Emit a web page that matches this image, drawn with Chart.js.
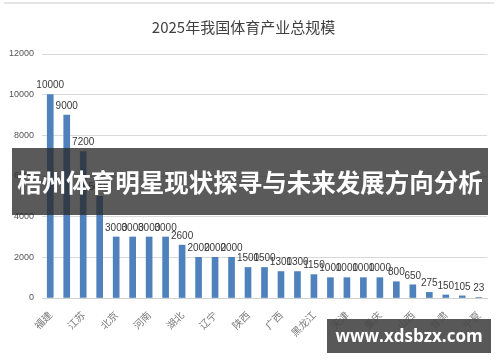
<!DOCTYPE html>
<html>
<head>
<meta charset="utf-8">
<script src="https://cdn.jsdelivr.net/npm/chart.js@4"></script>
<style>
  body { margin: 0; background: #fff; }
  #wrap { position: relative; width: 500px; height: 362px; overflow: hidden; }
  #topline { position: absolute; left: 4px; right: 6px; top: 2px; height: 2px; background: #e4e4e4; }
  #banner {
    position: absolute; left: 12px; top: 148px; width: 476px; height: 67px;
    background: rgba(40,40,40,0.77); color: #fff;
    font-family: "Noto Sans CJK SC", sans-serif; font-weight: bold; font-size: 24.5px;
    line-height: 67px; text-align: center; white-space: nowrap; letter-spacing: 0px;
  }
  #mark {
    position: absolute; left: 327px; top: 319px; width: 164px; height: 34px;
    background: rgba(70,70,70,0.9); color: #fff;
    font-family: "Open Sans", "DejaVu Sans", sans-serif; font-weight: bold; font-size: 17px;
    line-height: 34px; text-align: center;
  }
</style>
</head>
<body>
<div id="wrap">
  <canvas id="myChart" width="500" height="362"></canvas>
  <div id="topline"></div>
  <div id="banner">梧州体育明星现状探寻与未来发展方向分析</div>
  <div id="mark">www.xdsbzx.com</div>
</div>
<script>
// 2025年我国体育产业总规模 - 各省数据
const provinces = ['福建', '广东', '江苏', '浙江', '北京', '上海', '河南', '山东', '湖北', '湖南',
  '辽宁', '四川', '陕西', '安徽', '广西', '河北', '黑龙江', '云南', '天津', '江西',
  '重庆', '吉林', '山西', '贵州', '甘肃', '青海', '宁夏'];
const scaleValues = [10000, 9000, 7200, 5000, 3000, 3000, 3000, 3000, 2600, 2000,
  2000, 2000, 1500, 1500, 1300, 1300, 1150, 1000, 1000, 1000,
  1000, 800, 650, 275, 150, 105, 23];
const yTicks = [0, 2000, 4000, 6000, 8000, 10000, 12000];

// value labels on top of each bar
const barLabels = {
  id: 'barLabels',
  afterDatasetsDraw(chart) {
    const c = chart.ctx;
    const meta = chart.getDatasetMeta(0);
    c.save();
    c.font = '10px "Liberation Sans", sans-serif';
    c.fillStyle = '#3a3a3a';
    c.textAlign = 'center';
    c.textBaseline = 'bottom';
    meta.data.forEach((bar, i) => {
      c.fillText(String(scaleValues[i]), bar.x, bar.y - 4);
    });
    c.restore();
  }
};

const ctx = document.getElementById('myChart');

new Chart(ctx, {
  type: 'bar',
  data: {
    labels: provinces,
    datasets: [{
      data: scaleValues,
      backgroundColor: '#4f81bd',
      barThickness: 6
    }]
  },
  options: {
    responsive: false,
    animation: false,
    layout: { padding: { left: 0, right: 13, top: 0, bottom: 0 } },
    plugins: {
      legend: { display: false },
      tooltip: { enabled: false },
      title: {
        display: true,
        text: '2025年我国体育产业总规模',
        color: '#404040',
        font: { family: '"Noto Sans CJK SC", sans-serif', size: 15, weight: 'normal' },
        padding: { top: 18, bottom: 18 }
      }
    },
    scales: {
      x: {
        grid: { display: false },
        border: { color: '#d0d0d0' },
        ticks: {
          autoSkip: false,
          maxRotation: 45,
          minRotation: 45,
          color: '#7a7a7a',
          font: { family: '"Noto Sans CJK SC", sans-serif', size: 10 },
          callback: function (v, i) { return i % 2 === 0 ? provinces[i] : ''; }
        },
        afterFit(scale) { scale.height = 64; }
      },
      y: {
        min: 0,
        max: 12000,
        afterBuildTicks(scale) { scale.ticks = yTicks.map(v => ({ value: v })); },
        grid: { color: '#d9d9d9', drawTicks: false },
        border: { display: false },
        ticks: {
          color: '#555',
          padding: 8,
          font: { family: '"Liberation Sans", sans-serif', size: 9 },
          callback: v => String(v)
        },
        afterFit(scale) { scale.width = 42; }
      }
    }
  },
  plugins: [barLabels]
});
</script>
</body>
</html>
